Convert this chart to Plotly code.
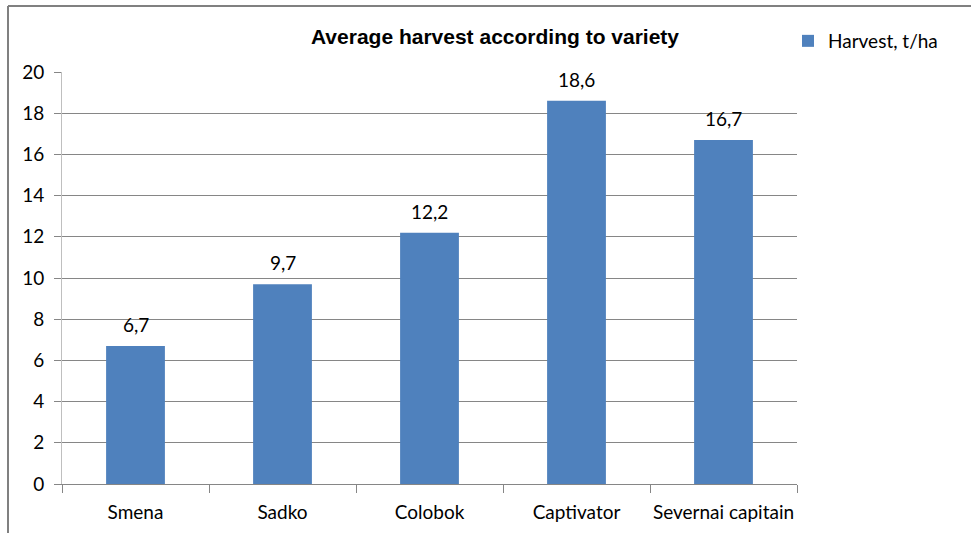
import plotly.graph_objects as go

varieties = ["Smena", "Sadko", "Colobok", "Captivator", "Severnai capitain"]
harvest = [6.7, 9.7, 12.2, 18.6, 16.7]
y_ticks = [0, 2, 4, 6, 8, 10, 12, 14, 16, 18, 20]

W, H = 971, 533
L, R, T, B = 62, 174, 72, 49
plot_w = W - L - R
plot_h = H - T - B

def px_x(px):
    return (px - L) / plot_w

def px_y(py):
    return (H - B - py) / plot_h

body_font = "Lato, 'Open Sans', sans-serif"
title_font = "'Liberation Sans', Arial, sans-serif"
text_color = "#000000"

fig = go.Figure()
fig.add_trace(go.Bar(
    x=varieties,
    y=harvest,
    name="Harvest, t/ha",
    marker=dict(color="#4F81BD", line=dict(width=0)),
    width=0.4,
    cliponaxis=False,
))

# value labels above each bar, in decimal-comma format
for name, val in zip(varieties, harvest):
    fig.add_annotation(
        x=name, y=val, xref="x", yref="y",
        text=f"{val:.1f}".replace(".", ","),
        showarrow=False, yanchor="bottom", yshift=8,
        font=dict(family=body_font, size=19, color=text_color),
    )

fig.update_layout(
    width=W, height=H,
    margin=dict(l=L, r=R, t=T, b=B, autoexpand=False),
    paper_bgcolor="white",
    plot_bgcolor="white",
    font=dict(family=body_font, size=19, color=text_color),
    title=dict(
        text="<b>Average harvest according to variety</b>",
        font=dict(family=title_font, size=21, color=text_color),
        xref="paper", x=px_x(495), xanchor="center",
        yref="container", y=1 - 37 / H, yanchor="middle",
    ),
    showlegend=True,
    legend=dict(
        x=px_x(788), y=px_y(41), xanchor="left", yanchor="middle",
        font=dict(family=body_font, size=19, color=text_color),
        bgcolor="rgba(0,0,0,0)",
        itemwidth=30,
    ),
    xaxis=dict(
        type="category",
        showgrid=False,
        showline=True, linecolor="#868686", linewidth=1,
        ticks="outside", tickson="boundaries", ticklen=8, tickcolor="#868686",
        tickfont=dict(family=body_font, size=19, color=text_color),
        tickangle=0,
        ticklabelstandoff=11,
        fixedrange=True,
    ),
    yaxis=dict(
        range=[0, 20],
        tickvals=y_ticks,
        showgrid=True, gridcolor="#868686", gridwidth=1,
        showline=True, linecolor="#BFBFBF", linewidth=1,
        ticks="outside", ticklen=7, tickcolor="#868686",
        tickfont=dict(family=body_font, size=19, color=text_color),
        ticklabelstandoff=6,
        zeroline=False,
        fixedrange=True,
    ),
    shapes=[
        # chart-area frame (left and top edges)
        dict(type="line", xref="paper", yref="paper",
             x0=px_x(8), x1=px_x(8), y0=px_y(6), y1=px_y(540),
             line=dict(color="#808080", width=2)),
        dict(type="line", xref="paper", yref="paper",
             x0=px_x(8), x1=px_x(980), y0=px_y(6), y1=px_y(6),
             line=dict(color="#808080", width=2)),
    ],
)

fig.write_html("out.html")
